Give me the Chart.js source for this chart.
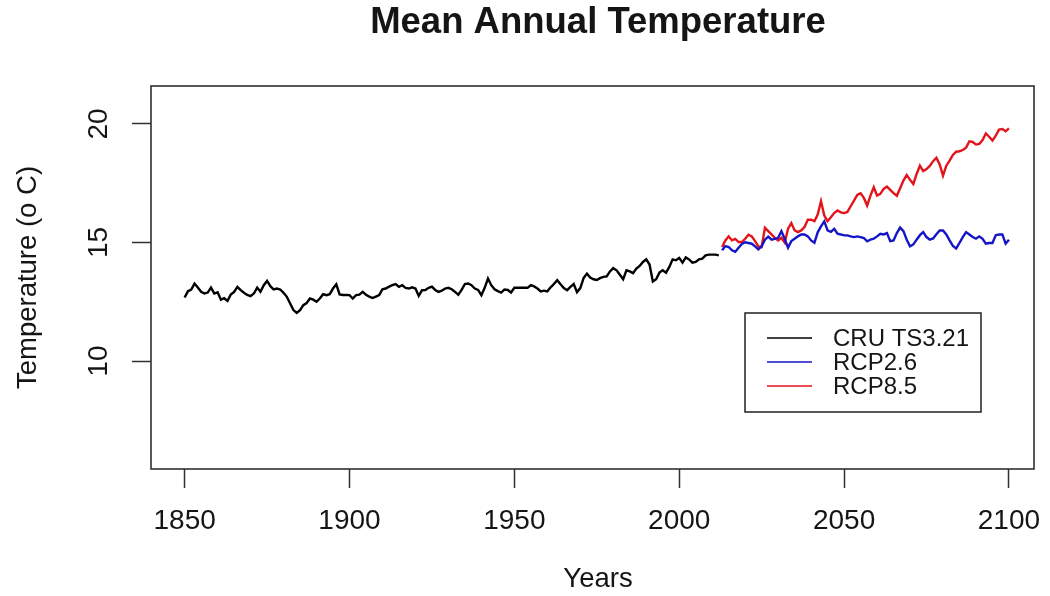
<!DOCTYPE html>
<html>
<head>
<meta charset="utf-8">
<title>Mean Annual Temperature</title>
<script src="https://cdn.jsdelivr.net/npm/chart.js@4.4.1/dist/chart.umd.min.js"></script>
<style>
  html, body { margin: 0; padding: 0; background: #fff; }
  #wrap { width: 1050px; height: 596px; }
</style>
</head>
<body>
<div id="wrap"><canvas id="tempChart" width="1050" height="596"></canvas></div>
<script>
// observed annual means, 1850-2012
const cruStart = 1850;
const cru = [
  12.68, 12.95, 13.02, 13.27, 13.10, 12.92, 12.85, 12.89, 13.10, 12.85,
  12.90, 12.59, 12.65, 12.54, 12.81, 12.92, 13.13, 12.99, 12.88, 12.79,
  12.74, 12.85, 13.10, 12.92, 13.20, 13.38, 13.16, 13.02, 13.06, 13.02,
  12.88, 12.71, 12.43, 12.15, 12.03, 12.15, 12.36, 12.45, 12.64, 12.59,
  12.50, 12.64, 12.82, 12.78, 12.82, 13.06, 13.24, 12.81, 12.79, 12.79,
  12.78, 12.64, 12.78, 12.80, 12.92, 12.80, 12.72, 12.66, 12.72, 12.78,
  13.03, 13.06, 13.14, 13.20, 13.25, 13.13, 13.20, 13.09, 13.06, 13.11,
  13.06, 12.75, 12.99, 13.00, 13.09, 13.14, 13.00, 12.92, 12.97, 13.06,
  13.09, 13.03, 12.92, 12.80, 13.00, 13.25, 13.27, 13.20, 13.06, 13.00,
  12.78, 13.09, 13.48, 13.20, 13.03, 12.95, 12.89, 13.02, 13.00, 12.89,
  13.09, 13.09, 13.09, 13.09, 13.09, 13.20, 13.15, 13.06, 12.94, 12.97,
  12.94, 13.11, 13.25, 13.41, 13.24, 13.08, 12.99, 13.13, 13.25, 12.91,
  13.08, 13.50, 13.69, 13.52, 13.45, 13.42, 13.50, 13.55, 13.57, 13.78,
  13.92, 13.83, 13.64, 13.45, 13.83, 13.78, 13.71, 13.90, 14.01, 14.18,
  14.29, 14.07, 13.36, 13.45, 13.73, 13.83, 13.73, 13.97, 14.29, 14.25,
  14.35, 14.15, 14.37, 14.29, 14.15, 14.18, 14.29, 14.32, 14.46, 14.49,
  14.49, 14.49, 14.46
];

// scenario projections, 2013-2100
const rcpStart = 2013;
const rcp26 = [
  14.67, 14.85, 14.81, 14.67, 14.61, 14.78, 14.94, 15.01, 14.98, 14.95,
  14.84, 14.71, 14.84, 15.12, 15.25, 15.12, 15.15, 15.20, 15.48, 15.15,
  14.78, 15.06, 15.16, 15.26, 15.34, 15.34, 15.26, 15.09, 14.99, 15.43,
  15.68, 15.89, 15.51, 15.45, 15.58, 15.37,
  15.34, 15.30, 15.30, 15.26, 15.23, 15.26, 15.23, 15.19, 15.05, 15.12,
  15.16, 15.26, 15.37, 15.34, 15.40, 15.06, 15.09, 15.40, 15.63, 15.48,
  15.12, 14.84, 14.92, 15.12, 15.31, 15.44, 15.23, 15.12, 15.17, 15.35,
  15.51, 15.51, 15.34, 15.09, 14.86, 14.75, 14.98, 15.23, 15.44, 15.34,
  15.23, 15.16, 15.26, 15.16, 14.95, 14.98, 14.98, 15.31, 15.34, 15.34,
  14.95, 15.12
];
const rcp85 = [
  14.81, 15.09, 15.26, 15.09, 15.15, 15.02, 15.02, 15.16, 15.33, 15.26,
  15.06, 14.84, 14.81, 15.62, 15.48, 15.34, 15.20, 15.09, 15.20, 15.00,
  15.58, 15.82, 15.51, 15.44, 15.51, 15.65, 15.96, 15.96, 15.90, 16.18,
  16.74, 16.14, 15.90, 16.07, 16.24, 16.35,
  16.27, 16.24, 16.29, 16.53, 16.77, 17.01, 17.08, 16.88, 16.56, 16.98,
  17.33, 16.98, 17.05, 17.26, 17.36, 17.22, 17.08, 16.97, 17.29, 17.61,
  17.85, 17.64, 17.47, 17.89, 18.24, 18.01, 18.10, 18.23, 18.43, 18.57,
  18.29, 17.82, 18.24, 18.45, 18.69, 18.83, 18.85, 18.90, 19.00, 19.27,
  19.24, 19.13, 19.16, 19.32, 19.60, 19.46, 19.30, 19.51, 19.76, 19.79,
  19.69, 19.81
];

const xTicks = [1850, 1900, 1950, 2000, 2050, 2100];
const yTicks = [10, 15, 20];
const seriesNames = ["CRU TS3.21", "RCP2.6", "RCP8.5"];
const seriesColors = ["#000000", "#1515c8", "#e3131b"];

const FONT = "'Liberation Sans', Arial, Helvetica, sans-serif";
const INK = "#151515";

const toPoints = (start, values) => values.map((v, i) => ({ x: start + i, y: v }));

// box around the plot, titles and the legend, drawn R-style
const frame = {
  id: "frame",
  afterDraw(chart) {
    const { ctx, chartArea: a } = chart;
    ctx.save();
    ctx.strokeStyle = "#303030";
    ctx.lineWidth = 1.6;
    ctx.strokeRect(a.left, a.top, a.right - a.left, a.bottom - a.top);

    ctx.fillStyle = INK;
    ctx.textAlign = "center";
    ctx.textBaseline = "middle";
    ctx.font = "bold 36.5px " + FONT;
    ctx.fillText("Mean Annual Temperature", 598, 23);

    ctx.font = "27.5px " + FONT;
    ctx.fillText("Years", 598, 579);

    ctx.save();
    ctx.translate(28, (a.top + a.bottom) / 2);
    ctx.rotate(-Math.PI / 2);
    ctx.fillText("Temperature (o C)", 0, 0);
    ctx.restore();

    // legend
    const lx = 745, ly = 313, lw = 236, lh = 99;
    ctx.fillStyle = "#fff";
    ctx.fillRect(lx, ly, lw, lh);
    ctx.strokeStyle = "#202020";
    ctx.lineWidth = 1.5;
    ctx.strokeRect(lx, ly, lw, lh);
    ctx.font = "24px " + FONT;
    ctx.textAlign = "left";
    seriesNames.forEach((name, i) => {
      const y = ly + 25 + i * 24;
      ctx.strokeStyle = seriesColors[i];
      ctx.lineWidth = 1.4;
      ctx.beginPath();
      ctx.moveTo(767, y);
      ctx.lineTo(812, y);
      ctx.stroke();
      ctx.fillStyle = INK;
      ctx.fillText(name, 833, y + 1);
    });
    ctx.restore();
  }
};

const tickGrid = {
  drawOnChartArea: false,
  drawTicks: true,
  tickLength: 19,
  tickColor: "#303030",
  tickWidth: 1.5
};

new Chart(document.getElementById("tempChart"), {
  type: "line",
  data: {
    datasets: [
      { label: seriesNames[0], data: toPoints(cruStart, cru) },
      { label: seriesNames[1], data: toPoints(rcpStart, rcp26) },
      { label: seriesNames[2], data: toPoints(rcpStart, rcp85) }
    ].map((d, i) => ({
      ...d,
      borderColor: seriesColors[i],
      borderWidth: 2.4,
      pointRadius: 0,
      tension: 0,
      fill: false
    }))
  },
  options: {
    responsive: false,
    animation: false,
    layout: { padding: { top: 86, right: 16, bottom: 0, left: 0 } },
    plugins: {
      legend: { display: false },
      title: { display: false },
      tooltip: { enabled: false }
    },
    scales: {
      x: {
        type: "linear",
        min: 1839.8,
        max: 2107.6,
        afterBuildTicks: (s) => { s.ticks = xTicks.map((v) => ({ value: v })); },
        afterFit: (s) => {
          s.height = 127;
          // labels may spill into the margin; keep the plot box fixed
          s.paddingLeft = 0;
          s.paddingRight = 0;
        },
        grid: tickGrid,
        border: { display: false },
        ticks: {
          autoSkip: false,
          maxRotation: 0,
          color: INK,
          padding: 16,
          font: { family: FONT, size: 28 },
          callback: (v) => String(v)
        }
      },
      y: {
        type: "linear",
        min: 5.45,
        max: 21.6,
        afterBuildTicks: (s) => { s.ticks = yTicks.map((v) => ({ value: v })); },
        afterFit: (s) => {
          s.width = 151;
          s.paddingTop = 0;
          s.paddingBottom = 0;
        },
        grid: tickGrid,
        border: { display: false },
        ticks: {
          minRotation: 90,
          maxRotation: 90,
          crossAlign: "center",
          color: INK,
          padding: 17,
          font: { family: FONT, size: 28 },
          callback: (v) => String(v)
        }
      }
    }
  },
  plugins: [frame]
});
</script>
</body>
</html>
